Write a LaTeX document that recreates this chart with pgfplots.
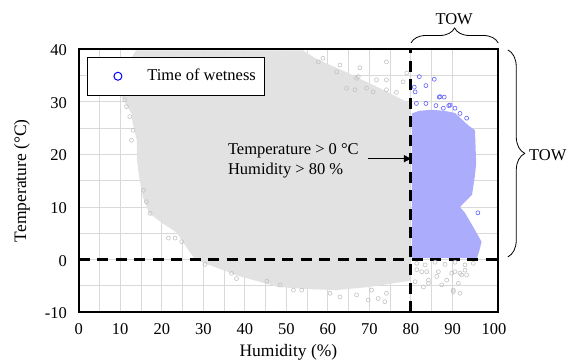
\documentclass[border=0pt]{standalone}
\usepackage{fontspec}
\setmainfont{Liberation Serif}
\usepackage{pgfplots}
\pgfplotsset{compat=1.18}
\usetikzlibrary{arrows.meta,decorations.pathreplacing}
\definecolor{gridc}{RGB}{217,217,217}
\definecolor{cloudgray}{RGB}{226,226,226}
\definecolor{ptgray}{RGB}{195,195,195}
\definecolor{cloudblue}{RGB}{172,172,252}
\definecolor{ptblue}{RGB}{95,95,255}
\begin{document}
\fontsize{16.5}{20}\selectfont
\begin{tikzpicture}
\path[use as bounding box] (0,0) rectangle (574pt,364pt);
\begin{axis}[
  at={(78.7pt,51.8pt)}, anchor=south west,
  scale only axis, width=419.5pt, height=262.9pt,
  clip=false,
  xmin=0, xmax=101, ymin=-10, ymax=40,
  xtick={0,10,...,90}, xticklabels={0,10,20,30,40,50,60,70,80,90},
  extra x ticks={100}, extra x tick labels={100},
  extra x tick style={grid=none},
  minor x tick num=1, minor y tick num=1,
  ytick={-10,0,...,40}, yticklabels={-10,0,10,20,30,40},
  grid=both,
  major grid style={gridc, line width=1pt},
  minor grid style={gridc, line width=1pt},
  major tick length=0pt, minor tick length=0pt,
  axis line style={black, line width=2pt},
  xticklabel style={anchor=base, inner sep=0pt, yshift=-22.8pt},
  yticklabel style={anchor=east, inner sep=0pt, xshift=-11.7pt, yshift=-1pt},
  xlabel={Humidity (\%)},
  xlabel style={at={(axis description cs:0.5,-0.1704)}, anchor=base, inner sep=0pt, font=\fontsize{17.5}{20}\selectfont},
  ylabel={Temperature (°C)},
  ylabel style={at={(axis description cs:-0.1256,0.5)}, anchor=base, inner sep=0pt, font=\fontsize{17.5}{20}\selectfont},
  legend style={at={(0.0198,0.9707)}, anchor=north west,
    inner xsep=26.5pt, inner ysep=11.8pt,
    draw=black, line width=0.8pt, fill=white,
    nodes={inner sep=0pt, line width=0.8pt}, column sep=25.5pt},
  legend cell align=left,
  legend image code/.code={\draw[#1] plot coordinates {(0pt,0pt)};},
]
% dense gray cloud (outline)
\addplot[draw=none, fill=cloudgray, forget plot] coordinates {
 (13.8,39.8) (54,39.8) (57,38.3) (60,37.2) (64,35.8) (68,34.3) (72,32.8) (76,31.2) (79.8,29.7)
 (79.8,-4.0) (75,-4.6) (70,-5.2) (62,-5.8) (55,-5.6) (48,-5.2) (43.5,-4.2) (38,-3.0)
 (35.5,-2.2) (31,-0.9) (28,0) (26,2.3) (23.5,5.2) (20,7.0) (17,8.8) (15.4,12) (14.5,16)
 (14,19) (14,22.7) (13,25.9) (12.7,27.8) (11,30) (10.3,31) (10,32) (11,36)
} -- cycle;
% dense blue cloud (time of wetness)
\addplot[draw=none, fill=cloudblue, forget plot] coordinates {
 (80.2,27.8) (82,28.3) (85,28.5) (88,28.3) (90.6,27.9) (93.7,25.6) (95.4,24.6) (95.7,18.3)
 (95.4,16) (94.7,12.3) (93,11) (91.8,10) (93,8.9) (94.7,6.6) (97,3.4) (96.5,1.8)
 (95.9,0.3) (80.2,0.3)
} -- cycle;
% sparse gray points
\addplot[only marks, mark=o, mark size=2pt, ptgray, line width=0.6pt, forget plot] coordinates {
 (57.7,37.6) (62.9,37.0) (67.7,36.5) (74.1,37.6) (62.1,35.7) (67.3,34.8) (71.7,34.2) (74.1,34.2)
 (79.0,35.5) (78.1,33.8) (76.5,31.8) (69.3,32.6) (70.9,31.9) (66.5,32.3) (74.1,32.3) (66.9,34.5)
 (64.5,32.6) (58.8,38.3)
 (81.4,-0.7) (83.4,-1.0) (85.8,-0.5) (88.2,-0.9) (90.6,-0.5) (93.0,-1.0) (95.0,-0.7)
 (82.6,-2.3) (86.6,-2.3) (89.8,-2.6) (92.2,-2.9) (81.0,-4.2) (84.2,-4.5) (87.4,-4.8)
 (90.2,-6.1) (91.4,-4.5) (93.4,-2.9) (81.4,-1.9) (83.8,-2.3) (86.2,-3.2) (88.6,-3.9)
 (90.6,-2.3) (91.8,-2.6) (93,-2) (90.2,-5.8) (91.8,-6.4) (83,-5.2) (84.2,-3.9)
 (51.7,-5.8) (53.7,-5.8) (60.5,-6.4) (62.9,-7.1) (66.9,-6.7) (69.7,-7.7) (72.1,-7.4)
 (73.7,-8.0) (74.1,-6.4) (70.5,-5.8) (48.5,-4.8) (45.3,-4.1) (36.8,-2.6) (38,-3.6) (30.4,-0.9)
 (21.6,4.1) (23.2,4.1) (24.8,3.4) (17.2,8.8) (16.3,11.0) (15.6,13.2)
 (11.1,30.4) (11.5,29.1) (12.3,27.2) (12.7,22.7) (13.1,24.6)
};
% sparse blue points
\addplot[only marks, mark=o, mark size=2pt, ptblue, line width=0.6pt, forget plot] coordinates {
 (80.8,32.8) (81,31.9) (83.6,33.1) (86.8,30.9) (88,30.9) (81.3,29.7) (83.6,29.7) (86,29.3)
 (89.1,29.3) (91.8,27.8) (93.4,26.9) (87.8,28.8) (90.6,28.8) (82,34.8) (85.6,34.3)
 (87,31) (89.4,29.4) (96.1,8.9)
};
% threshold lines
\addplot[black, line width=3pt, dash pattern=on 11pt off 7.5pt, forget plot] coordinates {(0,0) (101,0)};
\addplot[black, line width=3pt, dash pattern=on 11pt off 7.5pt, forget plot] coordinates {(80,-10) (80,40)};
\addlegendimage{only marks, mark=o, blue, mark size=4pt, line width=1pt}
\addlegendentry{Time of wetness\kern-17.5pt}
% annotation
\draw[-{Triangle[length=7pt,width=7pt]}, line width=0.8pt] (axis cs:69.6,19.2) -- (axis cs:80,19.2);
\node[anchor=base west, inner sep=0pt] at (axis cs:35.9,20.0) {Temperature > 0 °C};
\node[anchor=base west, inner sep=0pt] at (axis cs:35.9,16.2) {Humidity > 80 \%};
% braces
\draw[decorate, decoration={brace, amplitude=15pt}, line width=0.8pt] (axis cs:80,41.2) -- (axis cs:101,41.2);
\node[inner sep=0pt] at (axis cs:90.4,45.8) {TOW};
\draw[decorate, decoration={brace, amplitude=17pt}, line width=0.8pt] (axis cs:103.3,39.9) -- (axis cs:103.3,0.5);
\node[anchor=west, inner sep=0pt] at (axis cs:108.4,19.9) {TOW};
\end{axis}
\end{tikzpicture}
\end{document}
